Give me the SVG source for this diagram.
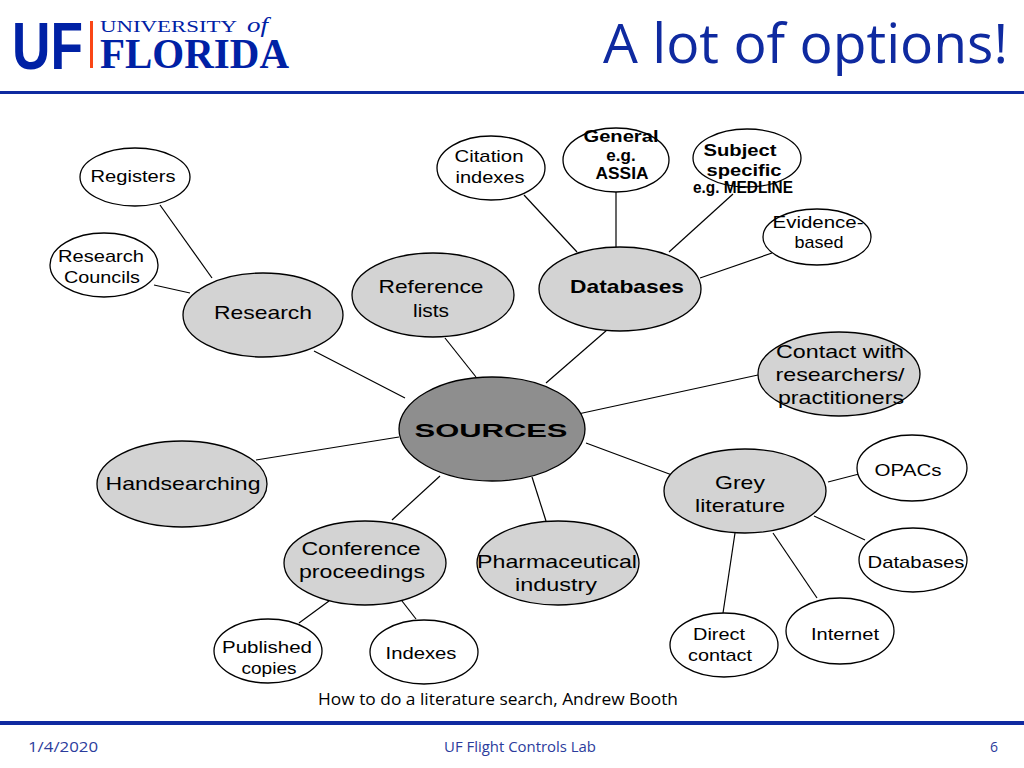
<svg xmlns="http://www.w3.org/2000/svg" width="1024" height="768" viewBox="0 0 1024 768">
<style>
.g{fill:#d3d3d3;stroke:#000;stroke-width:1.3}
.w{fill:#fff;stroke:#000;stroke-width:1.3}
.s{fill:#8e8e8e;stroke:#000;stroke-width:1.3}
.t{font-family:"Liberation Sans",Arial,sans-serif;font-size:17px;fill:#000;text-anchor:middle}
.tb{font-family:"Liberation Sans",Arial,sans-serif;font-size:19px;fill:#000;text-anchor:middle}
.bd{font-weight:bold}
.c line{stroke:#000;stroke-width:1.2}
.ft{font-family:"Open Sans","Liberation Sans",sans-serif;font-size:14px;fill:#2b3c9c}
</style>
<rect width="1024" height="768" fill="#fff"/>
<g id="logo">
<text x="12" y="69" font-family="Liberation Sans,Arial,sans-serif" font-weight="900" font-size="66" fill="#0021A5" textLength="71" lengthAdjust="spacingAndGlyphs">UF</text>
<rect x="90" y="21" width="3" height="47" fill="#FA4616"/>
<text x="100" y="32" font-family="Liberation Serif,serif" font-size="17" fill="#0021A5" textLength="137" lengthAdjust="spacingAndGlyphs">UNIVERSITY</text>
<text x="247" y="32" font-family="Liberation Serif,serif" font-style="italic" font-size="21" fill="#0021A5" textLength="21" lengthAdjust="spacingAndGlyphs">of</text>
<text x="100" y="68" font-family="Liberation Serif,serif" font-weight="bold" font-size="42" fill="#0021A5" textLength="189" lengthAdjust="spacingAndGlyphs">FLORIDA</text>
</g>
<text id="title" x="603" y="63" font-family="Open Sans,Liberation Sans,sans-serif" font-size="54" fill="#0f2aa0" textLength="405" lengthAdjust="spacingAndGlyphs">A lot of options!</text>
<rect x="0" y="91" width="1024" height="3" fill="#0f2aa0"/>
<g id="connectors" class="c">
<line x1="160" y1="205" x2="212" y2="278"/>
<line x1="154" y1="285" x2="190" y2="293"/>
<line x1="314" y1="351" x2="405" y2="398"/>
<line x1="445" y1="338" x2="476" y2="377"/>
<line x1="607" y1="330" x2="546" y2="383"/>
<line x1="524" y1="195" x2="577" y2="252"/>
<line x1="616" y1="192" x2="616" y2="247"/>
<line x1="733" y1="194" x2="669" y2="252"/>
<line x1="772" y1="253" x2="700" y2="278"/>
<line x1="578" y1="414" x2="758" y2="375"/>
<line x1="586" y1="443" x2="672" y2="475"/>
<line x1="828" y1="482" x2="859" y2="474"/>
<line x1="814" y1="516" x2="865" y2="540"/>
<line x1="735" y1="533" x2="723" y2="613"/>
<line x1="773" y1="533" x2="817" y2="598"/>
<line x1="532" y1="477" x2="546" y2="521"/>
<line x1="440" y1="476" x2="392" y2="520"/>
<line x1="256" y1="460" x2="399" y2="437"/>
<line x1="329" y1="601" x2="299" y2="623"/>
<line x1="402" y1="601" x2="416" y2="619"/>
</g>
<g id="registers"><ellipse class="w" cx="135" cy="177" rx="55" ry="29"/><text class="t" x="133" y="182" textLength="85" lengthAdjust="spacingAndGlyphs">Registers</text></g>
<g id="research-councils"><ellipse class="w" cx="104" cy="265" rx="54" ry="32"/><text class="t" x="101" y="262" textLength="86" lengthAdjust="spacingAndGlyphs">Research</text><text class="t" x="102" y="283" textLength="76" lengthAdjust="spacingAndGlyphs">Councils</text></g>
<g id="research"><ellipse class="g" cx="263" cy="315" rx="80" ry="42"/><text class="tb" x="263" y="319" textLength="98" lengthAdjust="spacingAndGlyphs">Research</text></g>
<g id="reference-lists"><ellipse class="g" cx="433" cy="295" rx="81" ry="42"/><text class="tb" x="431" y="293" textLength="105" lengthAdjust="spacingAndGlyphs">Reference</text><text class="tb" x="431" y="317" textLength="36" lengthAdjust="spacingAndGlyphs">lists</text></g>
<g id="citation-indexes"><ellipse class="w" cx="491" cy="168" rx="54" ry="32"/><text class="t" x="489" y="162" textLength="69" lengthAdjust="spacingAndGlyphs">Citation</text><text class="t" x="490" y="183" textLength="69" lengthAdjust="spacingAndGlyphs">indexes</text></g>
<g id="general"><ellipse class="w" cx="616" cy="160" rx="53" ry="32"/><text class="t bd" x="621" y="142" textLength="75" lengthAdjust="spacingAndGlyphs">General</text><text class="t bd" x="621" y="161" font-size="15">e.g.</text><text class="t bd" x="622" y="179" font-size="15" textLength="53" lengthAdjust="spacingAndGlyphs">ASSIA</text></g>
<g id="subject-specific"><ellipse class="w" cx="747" cy="158" rx="54" ry="29"/><text class="t bd" x="740" y="156" textLength="73" lengthAdjust="spacingAndGlyphs">Subject</text><text class="t bd" x="744" y="176" textLength="75" lengthAdjust="spacingAndGlyphs">specific</text><text class="t bd" x="743" y="193" font-size="12" textLength="100" lengthAdjust="spacingAndGlyphs">e.g. MEDLINE</text></g>
<g id="evidence-based"><ellipse class="w" cx="817" cy="237" rx="54" ry="28"/><text class="t" x="818" y="228" textLength="91" lengthAdjust="spacingAndGlyphs">Evidence-</text><text class="t" x="819" y="248" textLength="49" lengthAdjust="spacingAndGlyphs">based</text></g>
<g id="databases"><ellipse class="g" cx="620" cy="289" rx="81" ry="42"/><text class="tb bd" x="627" y="293" textLength="114" lengthAdjust="spacingAndGlyphs">Databases</text></g>
<g id="sources"><ellipse class="s" cx="492" cy="429" rx="93" ry="52"/><text class="tb bd" x="491" y="437" font-size="26" textLength="153" lengthAdjust="spacingAndGlyphs">SOURCES</text></g>
<g id="contact"><ellipse class="g" cx="839" cy="374" rx="81" ry="42"/><text class="tb" x="840" y="358" textLength="128" lengthAdjust="spacingAndGlyphs">Contact with</text><text class="tb" x="840" y="381" textLength="129" lengthAdjust="spacingAndGlyphs">researchers/</text><text class="tb" x="841" y="404" textLength="126" lengthAdjust="spacingAndGlyphs">practitioners</text></g>
<g id="grey-literature"><ellipse class="g" cx="745" cy="491" rx="81" ry="42"/><text class="tb" x="740" y="489" textLength="50" lengthAdjust="spacingAndGlyphs">Grey</text><text class="tb" x="740" y="512" textLength="90" lengthAdjust="spacingAndGlyphs">literature</text></g>
<g id="opacs"><ellipse class="w" cx="912" cy="468" rx="55" ry="33"/><text class="t" x="908" y="476" textLength="67" lengthAdjust="spacingAndGlyphs">OPACs</text></g>
<g id="databases-grey"><ellipse class="w" cx="913" cy="560" rx="54" ry="32"/><text class="t" x="916" y="568" textLength="97" lengthAdjust="spacingAndGlyphs">Databases</text></g>
<g id="direct-contact"><ellipse class="w" cx="724" cy="645" rx="54" ry="32"/><text class="t" x="719" y="640" textLength="52" lengthAdjust="spacingAndGlyphs">Direct</text><text class="t" x="720" y="661" textLength="64" lengthAdjust="spacingAndGlyphs">contact</text></g>
<g id="internet"><ellipse class="w" cx="840" cy="631" rx="54" ry="33"/><text class="t" x="845" y="640" textLength="68" lengthAdjust="spacingAndGlyphs">Internet</text></g>
<g id="pharmaceutical"><ellipse class="g" cx="558" cy="563" rx="81" ry="42"/><text class="tb" x="557" y="568" textLength="160" lengthAdjust="spacingAndGlyphs">Pharmaceutical</text><text class="tb" x="556" y="591" textLength="82" lengthAdjust="spacingAndGlyphs">industry</text></g>
<g id="handsearching"><ellipse class="g" cx="182" cy="484" rx="85" ry="43"/><text class="tb" x="183" y="490" textLength="155" lengthAdjust="spacingAndGlyphs">Handsearching</text></g>
<g id="conference"><ellipse class="g" cx="365" cy="563" rx="81" ry="42"/><text class="tb" x="361" y="555" textLength="119" lengthAdjust="spacingAndGlyphs">Conference</text><text class="tb" x="362" y="578" textLength="126" lengthAdjust="spacingAndGlyphs">proceedings</text></g>
<g id="published-copies"><ellipse class="w" cx="268" cy="651" rx="54" ry="32"/><text class="t" x="267" y="653" textLength="90" lengthAdjust="spacingAndGlyphs">Published</text><text class="t" x="269" y="674" textLength="55" lengthAdjust="spacingAndGlyphs">copies</text></g>
<g id="indexes"><ellipse class="w" cx="424" cy="652" rx="54" ry="32"/><text class="t" x="421" y="659" textLength="71" lengthAdjust="spacingAndGlyphs">Indexes</text></g>
<text id="caption" x="318" y="705" font-family="Open Sans,Liberation Sans,sans-serif" font-size="17" fill="#000" textLength="360" lengthAdjust="spacingAndGlyphs">How to do a literature search, Andrew Booth</text>
<rect x="0" y="721" width="1024" height="4" fill="#0f2aa0"/>
<text class="ft" x="28" y="752" textLength="70" lengthAdjust="spacingAndGlyphs">1/4/2020</text>
<text class="ft" x="520" y="752" text-anchor="middle" textLength="152" lengthAdjust="spacingAndGlyphs">UF Flight Controls Lab</text>
<text class="ft" x="990" y="752">6</text>
</svg>
